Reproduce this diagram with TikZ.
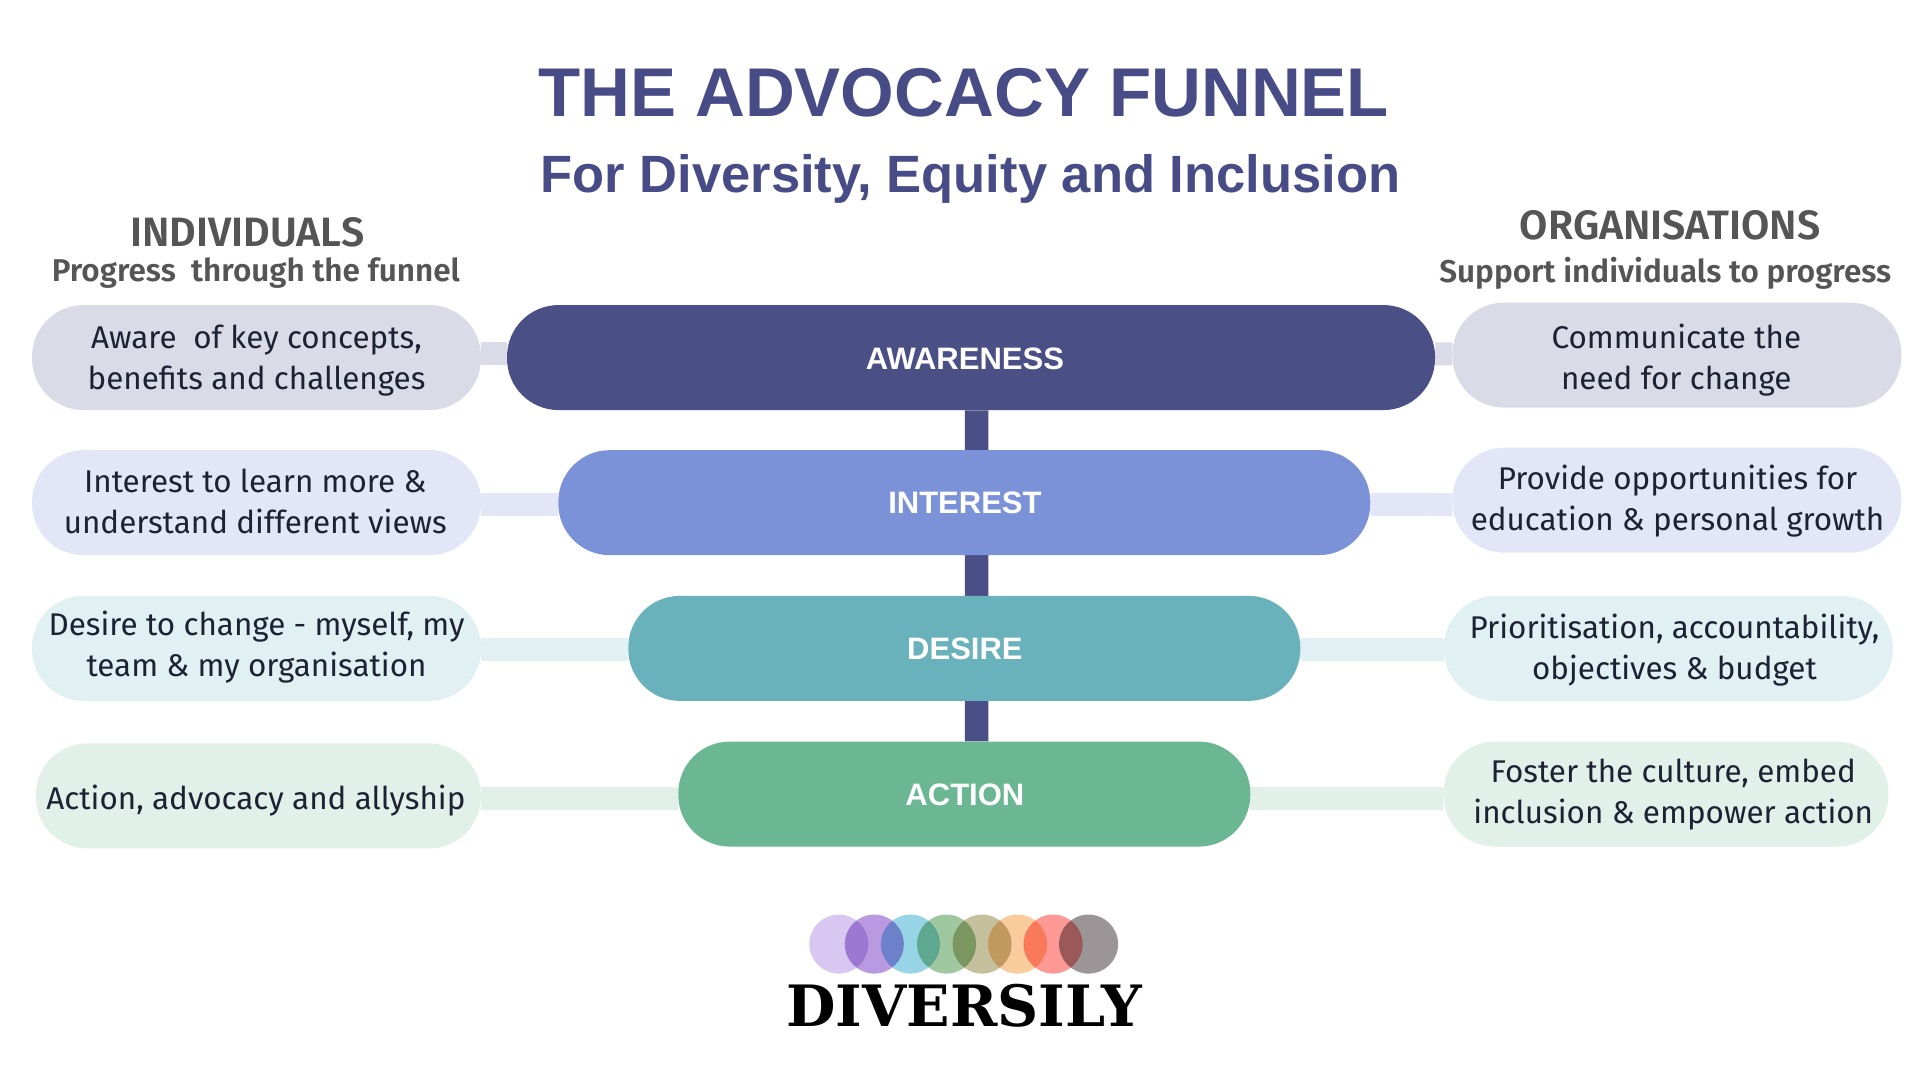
\documentclass[tikz,border=0pt]{standalone}
\usepackage{fontspec}
\setmainfont{Fira Sans}
\newfontfamily\titlefont{Liberation Sans}
\newfontfamily\stagefont{Liberation Sans}
\newfontfamily\headfont{Fira Sans SemiBold}
\newfontfamily\logofont{DejaVu Serif}
\usetikzlibrary{backgrounds}
\definecolor{navy}{HTML}{4A4F86}
\definecolor{titleblue}{HTML}{474C87}
\definecolor{heading}{HTML}{555555}
\definecolor{bodytext}{HTML}{1C2233}
\definecolor{cInt}{HTML}{7B92D8}
\definecolor{cDes}{HTML}{69B2BC}
\definecolor{cAct}{HTML}{6BB793}
\definecolor{pAwa}{HTML}{DBDBE7}
\definecolor{pInt}{HTML}{E2E6F6}
\definecolor{pDes}{HTML}{E0F0F3}
\definecolor{pAct}{HTML}{E1F0E9}
\definecolor{d1}{HTML}{D8C7F0}
\definecolor{d2}{HTML}{B99AE0}
\definecolor{d3}{HTML}{97D5E6}
\definecolor{d4}{HTML}{A0C8A0}
\definecolor{d5}{HTML}{C5C09C}
\definecolor{d6}{HTML}{FACB9C}
\definecolor{d7}{HTML}{FE9A96}
\definecolor{d8}{HTML}{9B9597}
\tikzset{
  pill/.style={rectangle,rounded corners=51.5pt,minimum height=105pt,inner sep=0pt,align=center,text=bodytext},
  pilltext/.style={inner sep=0pt,align=center,text=bodytext,font=\fontsize{31.4}{41}\selectfont},
  stage/.style={pill},
  stagetext/.style={inner sep=0pt,text=white,font=\stagefont\bfseries\fontsize{31}{36}\selectfont},
  link/.style={line width=23pt},
  heada/.style={inner sep=0pt,text=heading,font=\headfont\fontsize{41}{48}\selectfont},
  headb/.style={inner sep=0pt,text=heading,font=\headfont\fontsize{31.5}{36}\selectfont},
  dot/.style={circle,minimum size=59pt,inner sep=0pt},
}
\begin{document}
\begin{tikzpicture}[x=1.2245pt,y=-1.2245pt]
\useasboundingbox (0,0) rectangle (1568,882);
\node[inner sep=0pt,text=titleblue,font=\titlefont\bfseries\fontsize{69}{80}\selectfont] (title) at (787,76) {THE ADVOCACY FUNNEL};
\node[inner sep=0pt,text=titleblue,font=\titlefont\bfseries\fontsize{52.5}{56}\selectfont] (sub) at (792.5,146) {For Diversity, Equity and Inclusion};
\node[heada] (hi) at (202,190) {INDIVIDUALS};
\node[headb] (hi2) at (209,223) {Progress\ \ through the funnel};
\node[heada] (ho) at (1364,184) {ORGANISATIONS};
\node[headb] (ho2) at (1360,223) {Support individuals to progress};
% stages
\node[stage,fill=navy,minimum width=928pt] (aw) at (793,292) {};
\node[stage,fill=cInt,minimum width=812pt] (in) at (787.5,410.5) {};
\node[stage,fill=cDes,minimum width=672pt] (de) at (787.5,529.5) {};
\node[stage,fill=cAct,minimum width=572pt] (ac) at (787.5,648.5) {};
\node[stagetext] (awt) at (788,293) {AWARENESS};
\node[stagetext] (int) at (788,411) {INTEREST};
\node[stagetext] (det) at (788,530) {DESIRE};
\node[stagetext] (act) at (788,649) {ACTION};
% left
\node[pill,fill=pAwa,minimum width=449pt] (l1) at (209.5,292) {};
\node[pill,fill=pInt,minimum width=449pt] (l2) at (209.5,410.5) {};
\node[pill,fill=pDes,minimum width=449pt] (l3) at (209.5,529.5) {};
\node[pill,fill=pAct,minimum width=445pt] (l4) at (211,650) {};
\node[pilltext] (lt1) at (209.5,294.5) {Aware\ \ of key concepts,\\benefits and challenges};
\node[pilltext] (lt2) at (208.5,409.5) {Interest to learn more \&\\understand different views};
\node[pilltext] (lt3) at (209.5,528.5) {Desire to change - myself, my\\team \& my organisation};
\node[pilltext] (lt4) at (209,654) {Action, advocacy and allyship};
% right
\node[pill,fill=pAwa,minimum width=449pt] (r1) at (1369.5,290) {};
\node[pill,fill=pInt,minimum width=449pt] (r2) at (1369.5,408.5) {};
\node[pill,fill=pDes,minimum width=449pt] (r3) at (1362.5,529.5) {};
\node[pill,fill=pAct,minimum width=445pt] (r4) at (1360.5,648.5) {};
\node[pilltext] (rt1) at (1369,294) {Communicate the\\need for change};
\node[pilltext] (rt2) at (1370,409.5) {Provide opportunities for\\education \& personal growth};
\node[pilltext] (rt3) at (1367.5,530.5) {Prioritisation, accountability,\\objectives \& budget};
\node[pilltext] (rt4) at (1366.5,648.5) {Foster the culture, embed\\inclusion \& empower action};
\begin{scope}[on background layer]
\fill[white] (0,0) rectangle (1568,882);
\draw[line width=23.5pt,navy] ([xshift=5.5pt]aw.south) -- ([xshift=12.3pt]ac.north);
\draw[link,pAwa] ([yshift=3.7pt]l1.east) -- ([yshift=3.7pt]aw.west);
\draw[link,pInt] ([yshift=-1.8pt]l2.east) -- ([yshift=-1.8pt]in.west);
\draw[link,pDes] ([yshift=-1.2pt]l3.east) -- ([yshift=-1.2pt]de.west);
\draw[link,pAct] ([yshift=-2.4pt]l4.east) -- ([yshift=-4.3pt]ac.west);
\draw[link,pAwa] ([yshift=3.7pt]aw.east) -- ([yshift=1.2pt]r1.west);
\draw[link,pInt] ([yshift=-1.8pt]in.east) -- ([yshift=-4.3pt]r2.west);
\draw[link,pDes] ([yshift=-1.2pt]de.east) -- ([yshift=-1.2pt]r3.west);
\draw[link,pAct] ([yshift=-4.3pt]ac.east) -- ([yshift=-4.3pt]r4.west);
\end{scope}
% logo
\begin{scope}[blend mode=multiply]
\node[dot,fill=d1] (c1) at (685,771) {};
\node[dot,fill=d2] (c2) at (714,771) {};
\node[dot,fill=d3] (c3) at (743.5,771) {};
\node[dot,fill=d4] (c4) at (773,771) {};
\node[dot,fill=d5] (c5) at (802,771) {};
\node[dot,fill=d6] (c6) at (831,771) {};
\node[dot,fill=d7] (c7) at (860,771) {};
\node[dot,fill=d8] (c8) at (889,771) {};
\end{scope}
\node[inner sep=0pt,text=black,font=\logofont\bfseries\fontsize{57}{64}\selectfont] (logo) at (787.5,821) {DIVERSILY};
\end{tikzpicture}
\end{document}
